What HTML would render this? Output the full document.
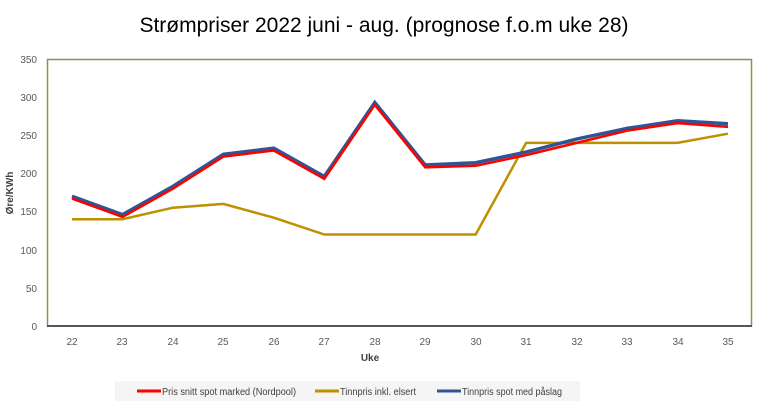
<!DOCTYPE html>
<html><head><style>body{margin:0;background:#fff;}svg{display:block;font-family:"Liberation Sans",sans-serif;}</style></head><body>
<svg width="768" height="409" xmlns="http://www.w3.org/2000/svg">
<text x="384" y="32" text-anchor="middle" font-size="21" fill="#000">Strømpriser 2022 juni - aug. (prognose f.o.m uke 28)</text>
<rect x="47.5" y="59.5" width="704" height="266.5" fill="none" stroke="#9c8a4a" stroke-width="1.5"/>
<line x1="47" y1="326" x2="752" y2="326" stroke="#555" stroke-width="2"/>
<g font-size="10" fill="#595959" text-anchor="end">
<text x="37" y="63">350</text><text x="37" y="101">300</text><text x="37" y="139">250</text><text x="37" y="177">200</text><text x="37" y="215">150</text><text x="37" y="254">100</text><text x="37" y="292">50</text><text x="37" y="330">0</text>
</g>
<g font-size="10" fill="#595959" text-anchor="middle">
<text x="72" y="345">22</text><text x="122" y="345">23</text><text x="173" y="345">24</text><text x="223" y="345">25</text><text x="274" y="345">26</text><text x="324" y="345">27</text><text x="375" y="345">28</text><text x="425" y="345">29</text><text x="476" y="345">30</text><text x="526" y="345">31</text><text x="577" y="345">32</text><text x="627" y="345">33</text><text x="678" y="345">34</text><text x="728" y="345">35</text>
</g>
<text x="370" y="361" font-size="10" font-weight="bold" fill="#404040" text-anchor="middle">Uke</text>
<text transform="translate(13,193) rotate(-90)" font-size="10" font-weight="bold" fill="#404040" text-anchor="middle">Øre/KWh</text>
<polyline fill="none" stroke="#bf9000" stroke-width="2.5" points="72,219.2 122.5,219.2 172.9,207.7 223.4,203.9 273.8,217.7 324.3,234.5 374.8,234.5 425.2,234.5 475.7,234.5 526.1,142.9 576.6,142.9 627.1,142.9 677.5,142.9 728,133.7"/>
<polyline fill="none" stroke="#2f5597" stroke-width="3.5" points="72,196.3 122.5,214.6 172.9,186.4 223.4,154.3 273.8,148.2 324.3,176.5 374.8,102.5 425.2,165 475.7,162.7 526.1,152.1 576.6,139.1 627.1,128.4 677.5,120.8 728,123.8"/>
<polyline fill="none" stroke="#ff0000" stroke-width="2.5" points="72,198.6 122.5,216.9 172.9,188.7 223.4,156.6 273.8,150.5 324.3,178.8 374.8,104.8 425.2,167.3 475.7,165.8 526.1,155.1 576.6,142.9 627.1,130.7 677.5,123.1 728,126.9"/>
<rect x="115" y="381" width="465" height="20" fill="#f5f5f5"/>
<g font-size="10" fill="#404040">
<line x1="137" y1="391" x2="161" y2="391" stroke="#ff0000" stroke-width="3"/><text x="162" y="395" textLength="134" lengthAdjust="spacingAndGlyphs">Pris snitt spot marked (Nordpool)</text>
<line x1="315" y1="391" x2="339" y2="391" stroke="#bf9000" stroke-width="3"/><text x="340" y="395" textLength="76" lengthAdjust="spacingAndGlyphs">Tinnpris inkl. elsert</text>
<line x1="437" y1="391" x2="461" y2="391" stroke="#2f5597" stroke-width="3"/><text x="462" y="395" textLength="100" lengthAdjust="spacingAndGlyphs">Tinnpris spot med påslag</text>
</g>
</svg>
</body></html>
